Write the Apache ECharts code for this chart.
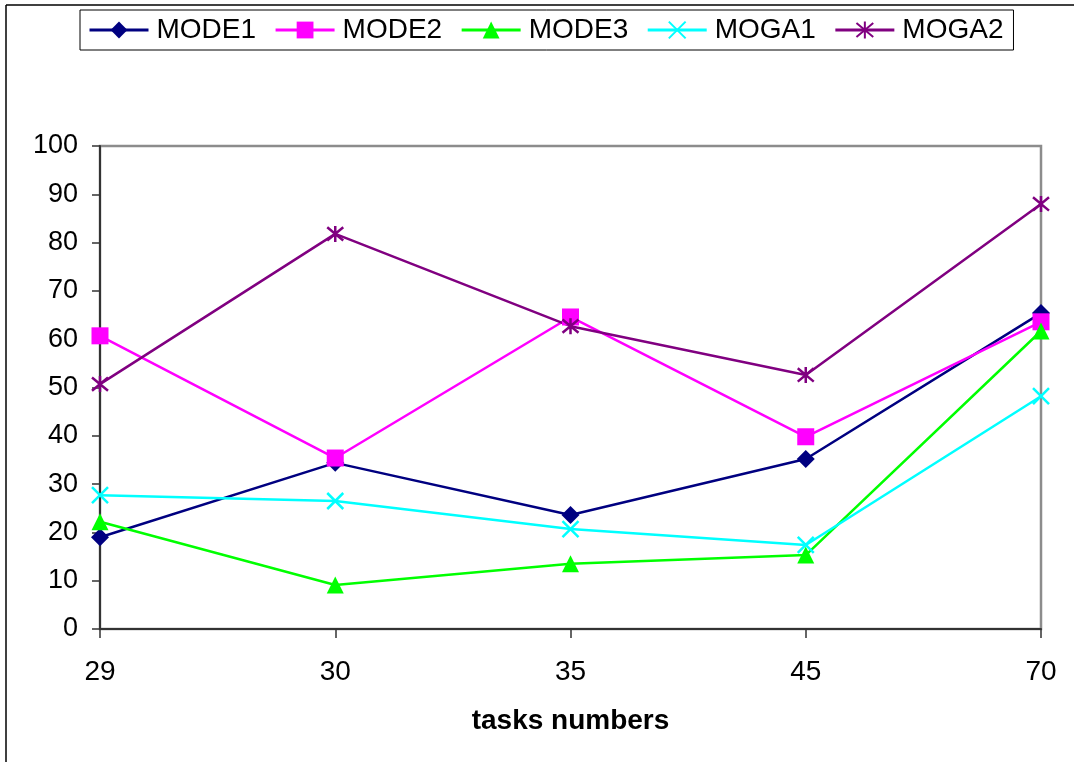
<!DOCTYPE html>
<html>
<head>
<meta charset="utf-8">
<style>
  html, body { margin: 0; padding: 0; background: #fff; }
  #chart { width: 1074px; height: 762px; }
</style>
<script src="https://cdn.jsdelivr.net/npm/echarts@6/dist/echarts.min.js"></script>
</head>
<body>
<div id="chart"></div>
<script>
// Task counts on the x axis
const categories = ['29', '30', '35', '45', '70'];

// Results per algorithm
const mode1 = [19.0, 34.4, 23.6, 35.2, 65.4];
const mode2 = [60.7, 35.4, 64.6, 39.8, 63.6];
const mode3 = [22.2, 9.1, 13.5, 15.3, 61.7];
const moga1 = [27.7, 26.5, 20.7, 17.4, 48.2];
const moga2 = [50.7, 81.8, 62.7, 52.6, 88.0];

const seriesNames = ['MODE1', 'MODE2', 'MODE3', 'MOGA1', 'MOGA2'];

const FONT = '"Liberation Sans", Arial, sans-serif';

const crossPath = 'path://M0,0L10,10M10,0L0,10';
const starPath = 'path://M0,0L10,10M10,0L0,10M5,-1L5,11';

function lineSeries(name, data, color, symbol, size, stroked) {
  return {
    name: name,
    type: 'line',
    data: data,
    symbol: symbol,
    symbolSize: size,
    showAllSymbol: true,
    lineStyle: { color: color, width: 2.5 },
    itemStyle: stroked
      ? { color: 'rgba(0,0,0,0)', borderColor: color, borderWidth: 2.5 }
      : { color: color, borderWidth: 0 },
    emphasis: { disabled: true },
    z: 3
  };
}

const chart = echarts.init(document.getElementById('chart'), null, { renderer: 'canvas' });

chart.setOption({
  backgroundColor: '#fff',
  animation: false,
  textStyle: { fontFamily: FONT },
  legend: {
    left: 80,
    top: 10,
    padding: [6, 10, 6, 8],
    itemWidth: 59,
    itemHeight: 21,
    itemGap: 18,
    borderColor: '#000',
    borderWidth: 1,
    lineStyle: { width: 3 },
    textStyle: { fontSize: 28, color: '#000', fontFamily: FONT, padding: [0, 0, 0, 3] },
    data: seriesNames
  },
  grid: {
    left: 100,
    right: 33,
    top: 146,
    bottom: 133,
    show: true,
    borderColor: '#8c8c8c',
    borderWidth: 2.5,
    backgroundColor: 'transparent'
  },
  xAxis: {
    type: 'category',
    data: categories,
    boundaryGap: false,
    axisLine: { lineStyle: { color: '#333', width: 2 } },
    axisTick: { show: true, length: 9, lineStyle: { color: '#333', width: 1.5 } },
    axisLabel: { fontSize: 28, color: '#000', margin: 29, fontFamily: FONT },
    splitLine: { show: false },
    name: 'tasks numbers',
    nameLocation: 'middle',
    nameGap: 78,
    nameTextStyle: { fontSize: 28, fontWeight: 'bold', color: '#000', fontFamily: FONT }
  },
  yAxis: {
    type: 'value',
    min: 0,
    max: 100,
    interval: 10,
    axisLine: { show: true, lineStyle: { color: '#333', width: 2 } },
    axisTick: { show: true, length: 8, lineStyle: { color: '#333', width: 1.5 } },
    axisLabel: { fontSize: 27, color: '#000', margin: 22, fontFamily: FONT },
    splitLine: { show: false }
  },
  graphic: [
    { type: 'line', shape: { x1: 6, y1: 5, x2: 1074, y2: 5 }, style: { stroke: '#000', lineWidth: 1.5 } },
    { type: 'line', shape: { x1: 6, y1: 5, x2: 6, y2: 762 }, style: { stroke: '#000', lineWidth: 1.5 } }
  ],
  series: [
    lineSeries('MODE1', mode1, '#000080', 'diamond', 18, false),
    lineSeries('MODE2', mode2, '#ff00ff', 'rect', 17, false),
    lineSeries('MODE3', mode3, '#00ff00', 'triangle', 17, false),
    lineSeries('MOGA1', moga1, '#00ffff', crossPath, 16, true),
    lineSeries('MOGA2', moga2, '#800080', starPath, 16, true)
  ]
});
</script>
</body>
</html>
